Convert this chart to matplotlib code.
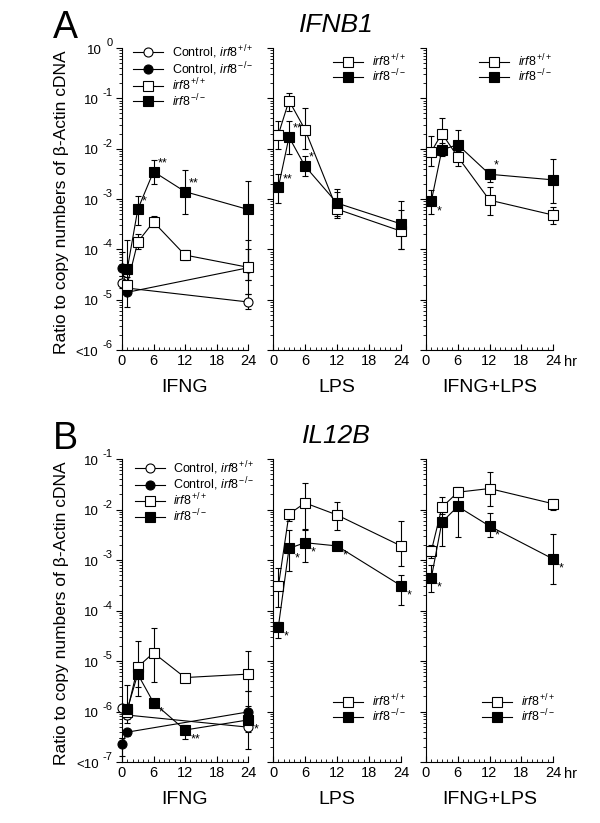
import matplotlib
matplotlib.use('Agg')
import matplotlib.pyplot as plt
from matplotlib.ticker import FixedLocator, LogLocator, NullFormatter, MultipleLocator
import numpy as np

plt.rcParams['font.family'] = ['Liberation Sans', 'DejaVu Sans']
plt.rcParams['mathtext.fontset'] = 'custom'
plt.rcParams['mathtext.rm'] = 'Liberation Sans'
plt.rcParams['mathtext.it'] = 'Liberation Sans:italic'
plt.rcParams['mathtext.bf'] = 'Liberation Sans:bold'

# time points (hr)
t_ctrl = [0, 1, 24]
t_stim = [1, 3, 6, 12, 24]

# ---------------- A: IFNB1 ----------------
# IFNG
a_ifng_cwt = [2.1e-5, 1.7e-5, 9e-6]
a_ifng_cwt_lo = [1.7e-5, 1.4e-5, 6.5e-6]
a_ifng_cwt_hi = [2.6e-5, 2.0e-5, 1.3e-5]
a_ifng_cko = [4.2e-5, 1.4e-5, 4.3e-5]
a_ifng_cko_lo = [3.0e-5, 7e-6, 2.5e-5]
a_ifng_cko_hi = [9e-5, 2.8e-5, 1.0e-4]
a_ifng_wt = [2e-5, 1.4e-4, 3.5e-4, 7.7e-5, 4.4e-5]
a_ifng_wt_lo = [1.6e-5, 1.0e-4, 2.8e-4, 6e-5, 2.5e-5]
a_ifng_wt_hi = [2.5e-5, 2.0e-4, 4.5e-4, 9.5e-5, 1.5e-4]
a_ifng_ko = [4e-5, 6.2e-4, 3.5e-3, 1.4e-3, 6.2e-4]
a_ifng_ko_lo = [1.5e-5, 3e-4, 2e-3, 5e-4, 1.3e-5]
a_ifng_ko_hi = [1.5e-4, 1.15e-3, 6e-3, 3.8e-3, 2.3e-3]
a_ifng_stars = ['', '*', '**', '**', '']
a_ifng_pos = ['u', 'u', 'u', 'u', 'u']

# LPS
a_lps_wt = [1.9e-2, 9e-2, 2.4e-2, 6.3e-4, 2.3e-4]
a_lps_wt_lo = [1e-2, 5.5e-2, 1e-2, 4.5e-4, 1e-4]
a_lps_wt_hi = [3.5e-2, 1.25e-1, 6.5e-2, 1.4e-3, 6e-4]
a_lps_ko = [1.7e-3, 1.7e-2, 4.5e-3, 8.3e-4, 3.2e-4]
a_lps_ko_lo = [8.5e-4, 8e-3, 2.8e-3, 4.2e-4, 1e-4]
a_lps_ko_hi = [3.2e-3, 3.5e-2, 7e-3, 1.6e-3, 9e-4]
a_lps_stars = ['**', '**', '*', '', '']
a_lps_pos = ['u', 'u', 'u', 'u', 'u']

# IFNG+LPS
a_both_wt = [8.7e-3, 2e-2, 6.9e-3, 9.5e-4, 4.8e-4]
a_both_wt_lo = [4.5e-3, 9e-3, 4.5e-3, 4.8e-4, 3.2e-4]
a_both_wt_hi = [1.8e-2, 4e-2, 9e-3, 1.7e-3, 7e-4]
a_both_ko = [9e-4, 9.5e-3, 1.2e-2, 3.1e-3, 2.4e-3]
a_both_ko_lo = [5e-4, 7e-3, 7e-3, 2.2e-3, 8.3e-4]
a_both_ko_hi = [1.5e-3, 1.3e-2, 2.3e-2, 4e-3, 6.2e-3]
a_both_stars = ['*', '', '', '*', '']
a_both_pos = ['d', 'u', 'u', 'u', 'u']

# ---------------- B: IL12B ----------------
b_ifng_cwt = [1.15e-6, 8.5e-7, 4.9e-7]
b_ifng_cwt_lo = [1e-6, 7e-7, 4e-7]
b_ifng_cwt_hi = [1.3e-6, 1e-6, 6e-7]
b_ifng_cko = [2.3e-7, 3.9e-7, 9.8e-7]
b_ifng_cko_lo = [1.3e-7, 3.2e-7, 7e-7]
b_ifng_cko_hi = [3e-7, 4.6e-7, 1.3e-6]
b_ifng_wt = [1.0e-6, 7.6e-6, 1.45e-5, 4.7e-6, 5.5e-6]
b_ifng_wt_lo = [8e-7, 3e-6, 3.8e-6, 4.3e-6, 2.5e-6]
b_ifng_wt_hi = [1.3e-6, 2.5e-5, 4.6e-5, 5e-6, 1.6e-5]
b_ifng_ko = [1.1e-6, 5.5e-6, 1.5e-6, 4.3e-7, 6.8e-7]
b_ifng_ko_lo = [6e-7, 2e-6, 1.2e-6, 2.8e-7, 1.8e-7]
b_ifng_ko_hi = [3.3e-6, 9e-6, 1.8e-6, 5.5e-7, 2.5e-6]
b_ifng_stars = ['', '', '*', '**', '*']
b_ifng_pos = ['d', 'd', 'd', 'd', 'd']

b_lps_wt = [3e-4, 8.1e-3, 1.35e-2, 7.8e-3, 1.9e-3]
b_lps_wt_lo = [1.2e-4, 6e-3, 4e-3, 4e-3, 7.5e-4]
b_lps_wt_hi = [7e-4, 1e-2, 3.3e-2, 1.4e-2, 6e-3]
b_lps_ko = [4.7e-5, 1.7e-3, 2.2e-3, 1.9e-3, 3.1e-4]
b_lps_ko_lo = [2.8e-5, 6e-4, 9e-4, 1.6e-3, 1.3e-4]
b_lps_ko_hi = [6e-5, 4e-3, 4.2e-3, 2.2e-3, 5e-4]
b_lps_stars = ['*', '*', '*', '*', '*']
b_lps_pos = ['d', 'd', 'd', 'd', 'd']

b_both_wt = [1.5e-3, 1.1e-2, 2.2e-2, 2.6e-2, 1.3e-2]
b_both_wt_lo = [1.1e-3, 8e-3, 1.8e-2, 1.2e-2, 1e-2]
b_both_wt_hi = [2e-3, 1.8e-2, 2.8e-2, 5.5e-2, 1.6e-2]
b_both_ko = [4.4e-4, 5.6e-3, 1.15e-2, 4.7e-3, 1.05e-3]
b_both_ko_lo = [2.3e-4, 1.9e-3, 2.8e-3, 2.8e-3, 3.3e-4]
b_both_ko_hi = [8e-4, 1.1e-2, 2.3e-2, 8.5e-3, 3.3e-3]
b_both_stars = ['*', '', '', '*', '*']
b_both_pos = ['d', 'd', 'd', 'd', 'd']

lab_cwt = r'Control, $\mathit{irf8}^{\,\mathit{+/+}}$'
lab_cko = r'Control, $\mathit{irf8}^{\,\mathit{-/-}}$'
lab_wt = r'$\mathit{irf8}^{\,\mathit{+/+}}$'
lab_ko = r'$\mathit{irf8}^{\,\mathit{-/-}}$'
ylab = 'Ratio to copy numbers of \u03b2-Actin cDNA'


def series(ax, t, y, lo, hi, marker, fill, label=None):
    y = np.array(y)
    lo = np.array(lo)
    hi = np.array(hi)
    eb = ax.errorbar(t, y, yerr=[y - lo, hi - y], fmt='none', ecolor='black',
                     elinewidth=0.8, capsize=2.5, capthick=0.8, zorder=2)
    for a in eb.lines[1] + eb.lines[2]:
        a.set_clip_on(False)
    ax.plot(t, y, color='black', lw=0.8, marker=marker, ms=6.5, mfc=fill,
            mec='black', mew=0.8, clip_on=False, label=label, zorder=3)


def stars(ax, t, y, marks, pos):
    off = {'u': (3, 6), 'd': (4, -7), 'r': (6, 0)}
    for ti, yi, m, p in zip(t, y, marks, pos):
        if m:
            ax.annotate(m, (ti, yi), xytext=off[p], textcoords='offset points',
                        fontsize=9, ha='left', va='center', annotation_clip=False)


def ylabels(ax, exps):
    # "10" followed by a raised exponent, as in the original
    r = fig.canvas.get_renderer()
    tr = ax.get_yaxis_transform()
    for i, e in enumerate(exps):
        ex = ax.annotate('%d' % e, xy=(0, 10.0 ** e), xycoords=tr, xytext=(-6.8, 3.5),
                         textcoords='offset points', ha='right', va='center',
                         fontsize=8, annotation_clip=False)
        w = ex.get_window_extent(r).width * 72.0 / fig.dpi
        base = '<10' if i == 0 else '10'
        ax.annotate(base, xy=(0, 10.0 ** e), xycoords=tr, xytext=(-6.8 - w - 3.0, -2),
                    textcoords='offset points', ha='right', va='center',
                    fontsize=9.5, annotation_clip=False)


def style(ax, ylo, yhi, show_ylabels):
    ax.set_yscale('log')
    ax.set_ylim(ylo, yhi)
    ax.set_xlim(0, 24)
    for s in ['top', 'right']:
        ax.spines[s].set_visible(False)
    for s in ['left', 'bottom']:
        ax.spines[s].set_linewidth(0.8)
    exps = list(range(int(np.log10(ylo)), int(np.log10(yhi)) + 1))
    ax.yaxis.set_major_locator(FixedLocator([10.0 ** e for e in exps]))
    ax.yaxis.set_major_formatter(NullFormatter())
    if show_ylabels:
        ylabels(ax, exps)
    ax.yaxis.set_minor_locator(LogLocator(base=10, subs=np.arange(2, 10)))
    ax.yaxis.set_minor_formatter(NullFormatter())
    ax.set_xticks([0, 6, 12, 18, 24])
    ax.xaxis.set_minor_locator(MultipleLocator(1))
    ax.tick_params(axis='y', which='major', direction='out', length=4, width=0.8)
    ax.tick_params(axis='y', which='minor', direction='out', length=2, width=0.6)
    ax.tick_params(axis='x', which='major', direction='in', length=4, width=0.8, labelsize=10.5, pad=3)
    ax.tick_params(axis='x', which='minor', direction='in', length=2, width=0.6)


fig = plt.figure(figsize=(6, 8.23), dpi=100)
W, H = 600.0, 823.0
lefts = [122, 273, 426]
widths = [126, 128, 127]
rows = [(48, 350), (459, 762)]
stims = ['IFNG', 'LPS', 'IFNG+LPS']

panels = {
    'A': [
        dict(ctrl=(a_ifng_cwt, a_ifng_cwt_lo, a_ifng_cwt_hi, a_ifng_cko, a_ifng_cko_lo, a_ifng_cko_hi),
             wt=(a_ifng_wt, a_ifng_wt_lo, a_ifng_wt_hi), ko=(a_ifng_ko, a_ifng_ko_lo, a_ifng_ko_hi),
             stars=(a_ifng_stars, a_ifng_pos)),
        dict(wt=(a_lps_wt, a_lps_wt_lo, a_lps_wt_hi), ko=(a_lps_ko, a_lps_ko_lo, a_lps_ko_hi),
             stars=(a_lps_stars, a_lps_pos)),
        dict(wt=(a_both_wt, a_both_wt_lo, a_both_wt_hi), ko=(a_both_ko, a_both_ko_lo, a_both_ko_hi),
             stars=(a_both_stars, a_both_pos)),
    ],
    'B': [
        dict(ctrl=(b_ifng_cwt, b_ifng_cwt_lo, b_ifng_cwt_hi, b_ifng_cko, b_ifng_cko_lo, b_ifng_cko_hi),
             wt=(b_ifng_wt, b_ifng_wt_lo, b_ifng_wt_hi), ko=(b_ifng_ko, b_ifng_ko_lo, b_ifng_ko_hi),
             stars=(b_ifng_stars, b_ifng_pos)),
        dict(wt=(b_lps_wt, b_lps_wt_lo, b_lps_wt_hi), ko=(b_lps_ko, b_lps_ko_lo, b_lps_ko_hi),
             stars=(b_lps_stars, b_lps_pos)),
        dict(wt=(b_both_wt, b_both_wt_lo, b_both_wt_hi), ko=(b_both_ko, b_both_ko_lo, b_both_ko_hi),
             stars=(b_both_stars, b_both_pos)),
    ],
}
ylims = {'A': (1e-6, 1e0), 'B': (1e-7, 1e-1)}
genes = {'A': 'IFNB1', 'B': 'IL12B'}
# legend anchors (axes fraction)
leg_at = {'A': [(0.087, 1.015), (0.47, 0.985), (0.42, 0.985)],
          'B': [(0.10, 1.0), (0.47, 0.23), (0.44, 0.23)]}

for r, key in enumerate(['A', 'B']):
    top, bot = rows[r]
    for c in range(3):
        ax = fig.add_axes([lefts[c] / W, 1 - bot / H, widths[c] / W, (bot - top) / H])
        style(ax, ylims[key][0], ylims[key][1], c == 0)
        p = panels[key][c]
        if 'ctrl' in p:
            cw, cwl, cwh, ck, ckl, ckh = p['ctrl']
            series(ax, t_ctrl, cw, cwl, cwh, 'o', 'white', lab_cwt)
            series(ax, t_ctrl, ck, ckl, ckh, 'o', 'black', lab_cko)
        series(ax, t_stim, *p['wt'], 's', 'white', lab_wt)
        series(ax, t_stim, *p['ko'], 's', 'black', lab_ko)
        stars(ax, t_stim, p['ko'][0], *p['stars'])
        ax.legend(loc='upper left', bbox_to_anchor=leg_at[key][c], frameon=False,
                  fontsize=9, handlelength=2.4, handletextpad=0.7, labelspacing=-0.08,
                  borderpad=0, borderaxespad=0, markerscale=1.0)
        ax.set_xlabel(stims[c], fontsize=14, labelpad=8)
        if c == 2:
            ax.annotate('hr', xy=(1, 0), xycoords='axes fraction', xytext=(8, -3.5),
                        textcoords='offset points', fontsize=10.5, ha='left', va='top')
    yc = (top + bot) / 2 + 3
    fig.text(62 / W, 1 - yc / H, ylab, rotation=90, fontsize=12.5, ha='center', va='center')
    fig.text(65 / W, 1 - (top - 20) / H, key, fontsize=27, ha='center', va='center')
    fig.text(336 / W, 1 - (top - 23) / H, genes[key], fontsize=19, style='italic',
             ha='center', va='center')

fig.savefig('out.png', dpi=100)
